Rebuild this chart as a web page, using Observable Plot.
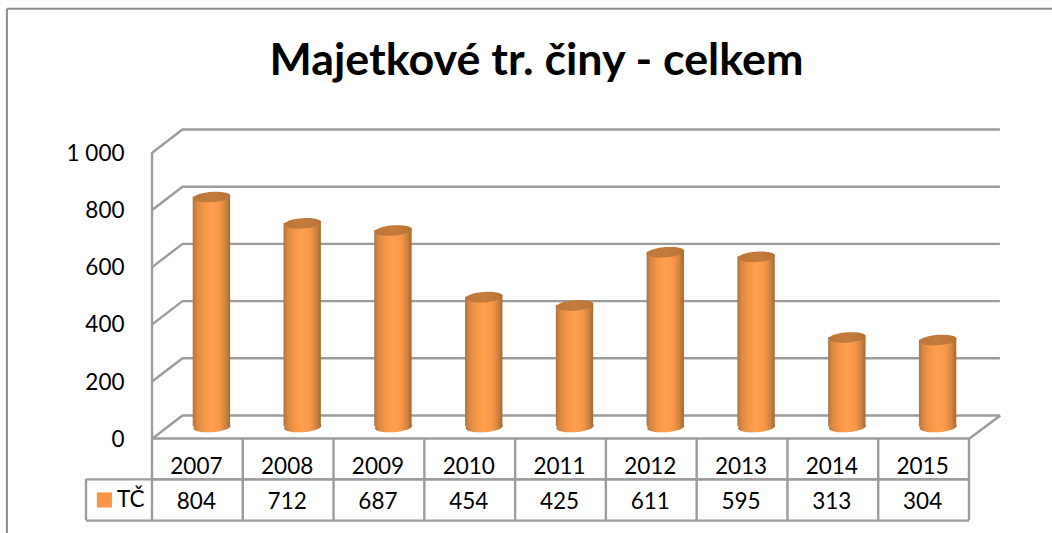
<!DOCTYPE html>
<html>
<head>
<meta charset="utf-8">
<style>html,body{margin:0;padding:0;background:#fff}svg{display:block}</style>
<script src="https://cdn.jsdelivr.net/npm/d3@7"></script>
<script src="https://cdn.jsdelivr.net/npm/@observablehq/plot@0.6"></script>
</head>
<body>
<div id="chart"></div>
<script>
const years = ["2007","2008","2009","2010","2011","2012","2013","2014","2015"];
const values = [804,712,687,454,425,611,595,313,304];
const yTicks = [0,200,400,600,800,1000];
const seriesName = "TČ";
const titleText = "Majetkové tr. činy - celkem";

const FONT = "Lato, Carlito, sans-serif";
const GRID = "#9c9c9c";
const LW = 2.4;
const rows = years.map((year,i)=>({year,i,value:values[i]}));

// 3D depth and table heights, in data units of the x (category index) and y scales
const depthX = 0.33, depthY = 80.4, wallEnd = 9.34;
const row1 = -143, row2 = -287;
const legendLeft = -0.727;

// ellipse symbol for the cylinder caps
const ellipse = {draw(ctx){
  const a=18.6,b=5.2,t=-4*Math.PI/180,n=48;
  for(let k=0;k<=n;k++){
    const u=k/n*2*Math.PI,px=a*Math.cos(u),py=b*Math.sin(u);
    const X=px*Math.cos(t)-py*Math.sin(t),Y=px*Math.sin(t)+py*Math.cos(t);
    k?ctx.lineTo(X,Y):ctx.moveTo(X,Y);
  }
  ctx.closePath();
}};

const defs = () => {
  const ns="http://www.w3.org/2000/svg";
  const d=document.createElementNS(ns,"defs");
  const grad=(id,stops)=>{
    const g=document.createElementNS(ns,"linearGradient");
    g.setAttribute("id",id);
    for(const [o,c] of stops){
      const s=document.createElementNS(ns,"stop");
      s.setAttribute("offset",o);s.setAttribute("stop-color",c);g.appendChild(s);
    }
    d.appendChild(g);
  };
  grad("body",[[0,"#b5733a"],[0.12,"#d98a45"],[0.3,"#f79646"],[0.5,"#ff9f4f"],[0.72,"#f89748"],[0.88,"#cf8340"],[1,"#a9682f"]]);
  grad("cap",[[0,"#bd7638"],[0.5,"#c47c3c"],[1,"#b87236"]]);
  return d;
};

const chart = Plot.plot({
  width:1052,height:533,
  marginLeft:152,marginRight:83,marginTop:152,marginBottom:95,
  style:{background:"#fff",fontFamily:FONT,color:"#000",overflow:"visible"},
  x:{type:"linear",domain:[0,9],axis:null},
  y:{domain:[0,1000],axis:null},
  marks:[
    defs,
    // outer chart border (open to the right and bottom, as cropped in the source)
    Plot.ruleX([-1.598],{y1:-340,y2:1501,stroke:"#8c8c8c",strokeWidth:2,dx:-0.5}),
    Plot.ruleY([1501],{x1:-1.598,x2:9.95,stroke:"#8c8c8c",strokeWidth:2,dy:-0.5}),
    // back wall gridlines
    Plot.ruleY(yTicks,{y:d=>d+depthY,x1:depthX,x2:wallEnd,stroke:GRID,strokeWidth:LW}),
    // side wall
    Plot.link(yTicks,{x1:0,y1:d=>d,x2:depthX,y2:d=>d+depthY,stroke:GRID,strokeWidth:LW}),
    Plot.ruleX([0],{y1:0,y2:1000,stroke:GRID,strokeWidth:LW,dx:-0.5}),
    // floor right edge
    Plot.link([0],{x1:9,y1:0,x2:wallEnd,y2:depthY,stroke:GRID,strokeWidth:LW}),
    // cylinders
    Plot.dot(rows,{x:d=>d.i+0.5,y:()=>0,symbol:()=>ellipse,r:5,fill:"url(#body)",stroke:"none",dx:14,dy:-11.5}),
    Plot.rectY(rows,{x1:d=>d.i,x2:d=>d.i+1,y1:()=>0,y2:"value",insetLeft:26.7,insetRight:26.7,fill:"url(#body)",dx:14,dy:-11.5}),
    Plot.dot(rows,{x:d=>d.i+0.5,y:"value",symbol:()=>ellipse,r:5,fill:"url(#cap)",stroke:"none",dx:14,dy:-11.5}),
    // axis labels
    Plot.axisY(yTicks,{anchor:"left",tickSize:0,tickPadding:28,fontSize:22.5,dy:1,
      tickFormat:d=>d3.format(",")(d).replace(","," "),label:null}),
    // data table grid
    Plot.ruleY([0,row1],{x1:0,x2:9,stroke:GRID,strokeWidth:LW}),
    Plot.ruleY([row1,row2],{x1:legendLeft,x2:9,stroke:GRID,strokeWidth:LW}),
    Plot.ruleX(d3.range(10),{y1:0,y2:row2,stroke:GRID,strokeWidth:LW,dx:-0.5}),
    Plot.ruleX([legendLeft],{y1:row1,y2:row2,stroke:GRID,strokeWidth:LW,dx:-0.5}),
    // table text
    Plot.text(rows,{x:d=>d.i+0.5,y:()=>(0+row1)/2,text:"year",fontSize:22.5,fill:"#000",dy:8,dx:-1.5}),
    Plot.text(rows,{x:d=>d.i+0.5,y:()=>(row1+row2)/2,text:d=>String(d.value),fontSize:22.5,fill:"#000",dy:2,dx:-1.5}),
    // legend key
    Plot.dot([seriesName],{x:-0.53,y:(row1+row2)/2,symbol:"square",r:8.5,fill:"#f79646",stroke:"none"}),
    Plot.text([seriesName],{x:-0.24,y:(row1+row2)/2,fontSize:22.5,fill:"#000",dy:0}),
    // title
    Plot.text([titleText],{x:4.23,y:1322,fontSize:44.8,fontWeight:700,fill:"#000"})
  ]
});
document.getElementById("chart").appendChild(chart);
</script>
</body>
</html>
